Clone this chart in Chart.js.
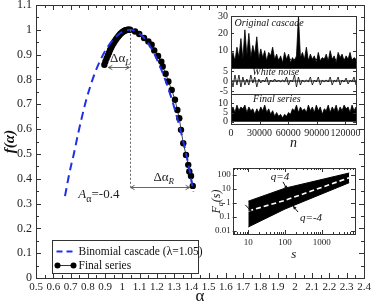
<!DOCTYPE html>
<html>
<head>
<meta charset="utf-8">
<script src="https://cdn.jsdelivr.net/npm/chart.js@4.4.1/dist/chart.umd.min.js"></script>
<style>
  body { margin: 0; background: #fff; }
  #wrap { position: relative; width: 374px; height: 307px; }
  canvas { position: absolute; }
</style>
</head>
<body>
<div id="wrap">
  <canvas id="main" width="374" height="307" style="left:0;top:0;width:374px;height:307px"></canvas>
  <canvas id="tsA" width="167" height="66" style="left:195px;top:8px;width:167px;height:66px"></canvas>
  <canvas id="tsB" width="167" height="38" style="left:195px;top:62px;width:167px;height:38px"></canvas>
  <canvas id="tsC" width="167" height="64" style="left:195px;top:88px;width:167px;height:64px"></canvas>
  <canvas id="fq" width="163" height="102" style="left:199px;top:160px;width:163px;height:102px"></canvas>
</div>
<script>
const SERIF = "'Liberation Serif', 'DejaVu Serif', serif";

// ---- main panel: f(alpha) spectrum ----
const alphaTicks = [0.5,0.6,0.7,0.8,0.9,1,1.1,1.2,1.3,1.4,1.5,1.6,1.7,1.8,1.9,2,2.1,2.2,2.3,2.4];
const fTicks = [0,0.1,0.2,0.3,0.4,0.5,0.6,0.7,0.8,0.9,1,1.1];

const binomAlpha = [0.668,0.687,0.707,0.716,0.745,0.790,0.838,0.871,0.905,0.950,1.000,1.045,1.080,1.120,1.160,1.200,1.240,1.280,1.320,1.360,1.385,1.411];
const binomF     = [0.330,0.400,0.465,0.490,0.585,0.715,0.820,0.875,0.920,0.963,0.992,1.000,0.993,0.972,0.935,0.882,0.815,0.735,0.640,0.530,0.450,0.348];

const finalAlpha = [0.896,0.902,0.909,0.916,0.923,0.929,0.936,0.942,0.949,0.955,0.962,0.968,0.975,0.981,0.987,0.993,1.000,1.006,1.013,1.019,1.026,1.032,1.038,1.045,
                    1.074,1.098,1.126,1.151,1.170,1.185,1.207,1.226,1.234,1.251,1.267,1.286,1.305,1.319,1.330,1.340,1.353,1.369,1.382,1.388,1.398,1.408];
const finalF     = [0.859,0.872,0.885,0.897,0.908,0.919,0.929,0.938,0.946,0.953,0.960,0.966,0.972,0.977,0.982,0.986,0.990,0.993,0.996,0.998,0.999,1.000,1.000,1.000,
                    0.993,0.983,0.967,0.953,0.940,0.917,0.895,0.872,0.852,0.823,0.792,0.758,0.718,0.677,0.644,0.597,0.543,0.496,0.456,0.429,0.411,0.371];

const peakAlpha = 1.045;
const dAlphaL = [0.919, 1.041, 0.852];   // from, to, f level
const dAlphaR = [1.048, 1.390, 0.367];

// ---- inset: time series ----
const nMax = 131072;
const nTicks = [0, 30000, 60000, 90000, 120000];
const cascade = [5,9,4,12,6,17,5,22, 7,20,6,13,8,18,5,11, 6,10,4,9,7,12,5,8, 4,7,3,9,5,8,3,6,
                 4,7,30,6,9,5,12,4, 8,5,7,3,9,4,6,5, 8,4,10,5,7,3,9,6, 8,4,7,5,9,4,6,5];
const cascadeMean = 5;
const noise = [2,-3,3,-2,3,-3,2,-2, 1,-2,3,-1,2,-3,1,-1, 0.5,-0.5,2,-2,0.5,-0.5,1,-0.5, 0.5,-0.5,0.4,-0.4,2,-2,0.5,-0.5,
               3,-3,2,-2,0.5,-0.5,0.4,-0.4, 2,-2,0.5,-0.5,2,-2,0.4,-0.4, 0.5,-0.5,2,-2,0.4,-0.4,2,-2, 0.5,-0.5,1.5,-1.5,0.4,-0.4,2,-2];
const finalSeries = [6,8,5,9,6,8,7,9, 5,8,6,7,4,7,5,8, 6,9,5,7,4,6,3,5, 3,4,2,4,3,5,4,7,
                     6,9,5,8,6,7,5,9, 6,8,5,9,6,8,4,7, 6,9,5,8,6,9,5,8, 6,9,7,8,5,9,6,8];

// ---- inset: fluctuation functions ----
const sVals = [10, 100, 5600];
const fqQ4  = [1.3, 11, 132];
const fqQ0  = [0.26, 1.5, 61];
const fqQm4 = [0.019, 0.36, 27];
const sTicks = [10, 100, 1000];
const fqTicks = [0.01, 0.1, 1, 10, 100];

function pts(xs, ys) { return xs.map((x, i) => ({ x: x, y: ys[i] })); }
function series(vals) { return vals.map((v, i) => ({ x: i * nMax / (vals.length - 1), y: v })); }
function noPad(s) { s.paddingTop = 0; s.paddingBottom = 0; s.paddingLeft = 0; s.paddingRight = 0; }

function frame(ctx, a) {
  ctx.strokeStyle = '#333';
  ctx.lineWidth = 1;
  ctx.strokeRect(Math.round(a.left) + 0.5, Math.round(a.top) + 0.5, Math.round(a.right - a.left), Math.round(a.bottom - a.top));
}
function ticksX(ctx, sc, a, vals, len, top) {
  ctx.beginPath();
  vals.forEach(v => {
    const p = Math.round(sc.getPixelForValue(v)) + 0.5;
    ctx.moveTo(p, a.bottom); ctx.lineTo(p, a.bottom - len);
    if (top) { ctx.moveTo(p, a.top); ctx.lineTo(p, a.top + len); }
  });
  ctx.stroke();
}
function ticksY(ctx, sc, a, vals, len, right) {
  ctx.beginPath();
  vals.forEach(v => {
    const p = Math.round(sc.getPixelForValue(v)) + 0.5;
    ctx.moveTo(a.left, p); ctx.lineTo(a.left + len, p);
    if (right) { ctx.moveTo(a.right, p); ctx.lineTo(a.right - len, p); }
  });
  ctx.stroke();
}
function richText(ctx, x, y, parts) {
  parts.forEach(p => {
    ctx.font = p.font;
    ctx.fillText(p.text, x, y + (p.dy || 0));
    x += ctx.measureText(p.text).width;
  });
}
function hArrow(ctx, x1, x2, y) {
  const h = 4;
  ctx.beginPath();
  ctx.moveTo(x1, y); ctx.lineTo(x2, y);
  ctx.moveTo(x1 + h, y - 2.2); ctx.lineTo(x1, y); ctx.lineTo(x1 + h, y + 2.2);
  ctx.moveTo(x2 - h, y - 2.2); ctx.lineTo(x2, y); ctx.lineTo(x2 - h, y + 2.2);
  ctx.stroke();
}
function arrowTo(ctx, x1, y1, x2, y2) {
  const ang = Math.atan2(y2 - y1, x2 - x1), h = 4;
  ctx.beginPath();
  ctx.moveTo(x1, y1); ctx.lineTo(x2, y2);
  ctx.stroke();
  ctx.beginPath();
  ctx.moveTo(x2, y2);
  ctx.lineTo(x2 - h * Math.cos(ang - 0.45), y2 - h * Math.sin(ang - 0.45));
  ctx.lineTo(x2 - h * Math.cos(ang + 0.45), y2 - h * Math.sin(ang + 0.45));
  ctx.closePath();
  ctx.fill();
}

const mainDecor = {
  id: 'mainDecor',
  afterDatasetsDraw(chart) {
    const { ctx, chartArea: a, scales: { x, y } } = chart;
    ctx.save();
    frame(ctx, a);
    ctx.strokeStyle = '#333';
    ctx.lineWidth = 1;
    ticksX(ctx, x, a, alphaTicks, 5, true);
    ticksX(ctx, x, a, alphaTicks.slice(0, -1).map(v => v + 0.05), 3, true);
    ticksY(ctx, y, a, fTicks, 5, true);
    ticksY(ctx, y, a, fTicks.slice(0, -1).map(v => v + 0.05), 3, true);

    // dotted line from the peak
    ctx.strokeStyle = '#666';
    ctx.setLineDash([2, 2]);
    ctx.beginPath();
    const px = Math.round(x.getPixelForValue(peakAlpha)) + 0.5;
    ctx.moveTo(px, y.getPixelForValue(1.0));
    ctx.lineTo(px, y.getPixelForValue(dAlphaR[2]));
    ctx.stroke();
    ctx.setLineDash([]);

    // width arrows
    ctx.strokeStyle = '#555';
    ctx.lineWidth = 0.9;
    hArrow(ctx, x.getPixelForValue(dAlphaL[0]), x.getPixelForValue(dAlphaL[1]), Math.round(y.getPixelForValue(dAlphaL[2])) + 0.5);
    hArrow(ctx, x.getPixelForValue(dAlphaR[0]), x.getPixelForValue(dAlphaR[1]), Math.round(y.getPixelForValue(dAlphaR[2])) + 0.5);

    ctx.fillStyle = '#222';
    ctx.textBaseline = 'alphabetic';
    richText(ctx, x.getPixelForValue(0.929), y.getPixelForValue(0.872), [
      { text: 'Δα', font: '13px ' + SERIF },
      { text: 'L', font: 'italic 9px ' + SERIF, dy: 3 }]);
    richText(ctx, x.getPixelForValue(1.18), y.getPixelForValue(0.39), [
      { text: 'Δα', font: '13px ' + SERIF },
      { text: 'R', font: 'italic 9px ' + SERIF, dy: 3 }]);
    richText(ctx, x.getPixelForValue(0.745), y.getPixelForValue(0.322), [
      { text: 'A', font: 'italic 13px ' + SERIF },
      { text: 'α', font: '10px ' + SERIF, dy: 4 },
      { text: '=-0.4', font: '13px ' + SERIF }]);

    // legend box
    const lx = Math.round(a.left) + 16.5, ly = Math.round(a.bottom) - 37.5;
    ctx.strokeStyle = '#333';
    ctx.lineWidth = 1;
    ctx.fillStyle = '#fff';
    ctx.fillRect(lx, ly, 146, 33);
    ctx.strokeRect(lx, ly, 146, 33);
    const ds = chart.data.datasets;
    ctx.strokeStyle = ds[0].borderColor;
    ctx.lineWidth = 2;
    ctx.setLineDash([6, 4]);
    ctx.beginPath(); ctx.moveTo(lx + 4, ly + 11); ctx.lineTo(lx + 22, ly + 11); ctx.stroke();
    ctx.setLineDash([]);
    ctx.strokeStyle = '#333';
    ctx.lineWidth = 1;
    ctx.beginPath(); ctx.moveTo(lx + 5, ly + 25); ctx.lineTo(lx + 21, ly + 25); ctx.stroke();
    ctx.fillStyle = '#000';
    [lx + 5, lx + 21].forEach(cx => { ctx.beginPath(); ctx.arc(cx, ly + 25, 3, 0, Math.PI * 2); ctx.fill(); });
    ctx.fillStyle = '#111';
    ctx.font = '11.5px ' + SERIF;
    ctx.textBaseline = 'middle';
    ctx.fillText(ds[0].label, lx + 26, ly + 11);
    ctx.fillText(ds[1].label, lx + 26, ly + 25);
    ctx.restore();
  }
};

new Chart(document.getElementById('main'), {
  type: 'line',
  data: {
    datasets: [{
      label: 'Binomial cascade (λ=1.05)',
      data: pts(binomAlpha, binomF),
      borderColor: '#1f30e6',
      borderWidth: 2,
      borderDash: [8, 5],
      pointRadius: 0,
      cubicInterpolationMode: 'monotone',
      fill: false
    }, {
      label: 'Final series',
      data: pts(finalAlpha, finalF),
      borderColor: '#444',
      borderWidth: 1,
      pointRadius: 3.2,
      pointBorderWidth: 0,
      pointBackgroundColor: '#000',
      fill: false
    }]
  },
  options: {
    responsive: false,
    animation: false,
    layout: { padding: { top: 5, right: 10, left: 0, bottom: 0 } },
    plugins: { legend: { display: false }, tooltip: { enabled: false } },
    scales: {
      x: {
        type: 'linear', min: 0.5, max: 2.4,
        afterFit(s) { s.height = 29; noPad(s); },
        afterBuildTicks(s) { s.ticks = alphaTicks.map(v => ({ value: v })); },
        grid: { display: false, drawTicks: false },
        border: { display: false },
        ticks: { autoSkip: false, maxRotation: 0, padding: 3, color: '#222',
                 font: { family: SERIF, size: 11 }, callback: v => String(+v.toFixed(1)) },
        title: { display: true, text: 'α', color: '#111', padding: 0, font: { family: SERIF, size: 17 } }
      },
      y: {
        type: 'linear', min: 0, max: 1.1,
        afterFit(s) { s.width = 36; noPad(s); },
        afterBuildTicks(s) { s.ticks = fTicks.map(v => ({ value: v })); },
        grid: { display: false, drawTicks: false },
        border: { display: false },
        ticks: { autoSkip: false, padding: 4, color: '#222',
                 font: { family: SERIF, size: 12 }, callback: v => String(+v.toFixed(1)) },
        title: { display: true, text: 'f(α)', color: '#111', padding: { top: 1, bottom: 0 },
                 font: { family: SERIF, size: 15, style: 'italic', weight: 'bold' } }
      }
    }
  },
  plugins: [mainDecor]
});

// ---- time-series panels ----
function panel(id, datasets, yMin, yMax, yTicks, padTop, padBottom, showX, label, labelAt) {
  const deco = {
    id: 'deco' + id,
    afterDatasetsDraw(chart) {
      const { ctx, chartArea: a, scales: { x, y } } = chart;
      ctx.save();
      frame(ctx, a);
      ticksY(ctx, y, a, yTicks, 3, true);
      if (showX) ticksX(ctx, x, a, nTicks, 3, false);
      ctx.fillStyle = '#111';
      ctx.font = 'italic 10px ' + SERIF;
      ctx.textAlign = 'center';
      ctx.textBaseline = 'middle';
      ctx.fillText(label, x.getPixelForValue(labelAt[0]), y.getPixelForValue(labelAt[1]));
      ctx.restore();
    }
  };
  return new Chart(document.getElementById(id), {
    type: 'line',
    data: { datasets: datasets },
    options: {
      responsive: false,
      animation: false,
      layout: { padding: { top: padTop, right: 6, left: 0, bottom: padBottom } },
      plugins: { legend: { display: false }, tooltip: { enabled: false } },
      elements: { point: { radius: 0 }, line: { tension: 0 } },
      scales: {
        x: {
          type: 'linear', min: 0, max: nMax, display: showX,
          afterFit(s) { s.height = showX ? 28 : 0; noPad(s); },
          afterBuildTicks(s) { s.ticks = nTicks.map(v => ({ value: v })); },
          grid: { display: false, drawTicks: false },
          border: { display: false },
          ticks: { autoSkip: false, maxRotation: 0, padding: 3, color: '#222', font: { family: SERIF, size: 10 },
                   callback: v => String(v) },
          title: { display: true, text: 'n', color: '#111', padding: 0, font: { family: SERIF, size: 14, style: 'italic' } }
        },
        y: {
          type: 'linear', min: yMin, max: yMax,
          afterFit(s) { s.width = 36; noPad(s); },
          afterBuildTicks(s) { s.ticks = yTicks.map(v => ({ value: v })); },
          grid: { display: false, drawTicks: false },
          border: { display: false },
          ticks: { autoSkip: false, padding: 3, color: '#222', font: { family: SERIF, size: 10 } }
        }
      }
    },
    plugins: [deco]
  });
}

panel('tsA', [
  { data: series(cascade), borderColor: '#000', borderWidth: 0.8, backgroundColor: '#000', fill: 'origin' },
  { data: [{ x: 0, y: cascadeMean }, { x: nMax, y: cascadeMean }], borderColor: '#000', borderWidth: 1, borderDash: [6, 3], fill: false }
], 0, 30, [10, 20, 30], 8, 6, false, 'Original cascade', [40000, 26]);

panel('tsB', [
  { data: series(noise), borderColor: '#000', borderWidth: 0.8, fill: false },
  { data: [{ x: 0, y: 0 }, { x: nMax, y: 0 }], borderColor: '#000', borderWidth: 1, fill: false }
], -6.5, 6.5, [-5, 0, 5], 6, 6, false, 'White noise', [47000, 4.3]);

panel('tsC', [
  { data: series(finalSeries), borderColor: '#000', borderWidth: 0.8, backgroundColor: '#000', fill: 'origin' }
], -1.2, 15, [0, 5, 10], 6, 0, true, 'Final series', [48000, 12]);

// ---- F_q(s) inset ----
const sMinor = [4,5,6,7,8,9,20,30,40,50,60,70,80,90,200,300,400,500,600,700,800,900,2000,3000,4000,5000,6000,7000,8000];
const fqDeco = {
  id: 'fqDeco',
  afterDatasetsDraw(chart) {
    const { ctx, chartArea: a, scales: { x, y } } = chart;
    ctx.save();
    frame(ctx, a);
    ticksX(ctx, x, a, sTicks, 4, true);
    ticksX(ctx, x, a, sMinor, 2, true);
    ticksY(ctx, y, a, fqTicks, 4, true);
    ctx.fillStyle = '#111';
    ctx.strokeStyle = '#111';
    ctx.lineWidth = 1;
    ctx.textBaseline = 'middle';
    ctx.textAlign = 'left';
    const P = (s, f) => [x.getPixelForValue(s), y.getPixelForValue(f)];
    ctx.font = 'italic 11px ' + SERIF;
    let p = P(72, 72); ctx.fillText('q=4', p[0] - 9, p[1]);
    p = P(1.6, 1.6); ctx.fillText('q=0', 234, p[1]);
    p = P(480, 0.084); ctx.fillText('q=-4', p[0] - 10, p[1]);
    let s = P(88, 31), e = P(115, 9); arrowTo(ctx, s[0], s[1], e[0], e[1]);
    s = P(8.3, 0.71); e = P(12.6, 0.22); arrowTo(ctx, s[0], s[1], e[0], e[1]);
    s = P(226, 0.22); e = P(165, 0.6); arrowTo(ctx, s[0], s[1], e[0], e[1]);
    // rotated axis title with subscript
    ctx.translate(17, (a.top + a.bottom) / 2);
    ctx.rotate(-Math.PI / 2);
    ctx.textAlign = 'left';
    ctx.textBaseline = 'alphabetic';
    ctx.font = 'italic 12px ' + SERIF;
    const w = ctx.measureText('F(s)').width + 5;
    richText(ctx, -w / 2, 4, [
      { text: 'F', font: 'italic 12px ' + SERIF },
      { text: 'q', font: 'italic 8px ' + SERIF, dy: 3 },
      { text: '(s)', font: 'italic 12px ' + SERIF }]);
    ctx.restore();
  }
};

new Chart(document.getElementById('fq'), {
  type: 'line',
  data: {
    datasets: [
      { label: 'q=0', data: pts(sVals, fqQ0), borderColor: '#fff', borderWidth: 1.6, borderDash: [5, 3], fill: false },
      { label: 'q=4', data: pts(sVals, fqQ4), borderColor: '#000', borderWidth: 1, backgroundColor: '#000', fill: '+1' },
      { label: 'q=-4', data: pts(sVals, fqQm4), borderColor: '#000', borderWidth: 1, fill: false }
    ]
  },
  options: {
    responsive: false,
    animation: false,
    layout: { padding: { top: 8, right: 7, left: 0, bottom: 0 } },
    plugins: { legend: { display: false }, tooltip: { enabled: false } },
    elements: { point: { radius: 0 }, line: { tension: 0 } },
    scales: {
      x: {
        type: 'logarithmic', min: 3.76, max: 8070,
        afterFit(s) { s.height = 28; noPad(s); },
        afterBuildTicks(s) { s.ticks = sTicks.map(v => ({ value: v })); },
        grid: { display: false, drawTicks: false },
        border: { display: false },
        ticks: { autoSkip: false, maxRotation: 0, padding: 3, color: '#222', font: { family: SERIF, size: 9 }, callback: v => String(v) },
        title: { display: true, text: 's', color: '#111', padding: 0, font: { family: SERIF, size: 13, style: 'italic' } }
      },
      y: {
        type: 'logarithmic', min: 0.006, max: 300,
        afterFit(s) { s.width = 33.7; noPad(s); },
        afterBuildTicks(s) { s.ticks = fqTicks.map(v => ({ value: v })); },
        grid: { display: false, drawTicks: false },
        border: { display: false },
        ticks: { autoSkip: false, padding: 2, color: '#222', font: { family: SERIF, size: 9 }, callback: v => String(v) }
      }
    }
  },
  plugins: [fqDeco]
});
</script>
</body>
</html>
